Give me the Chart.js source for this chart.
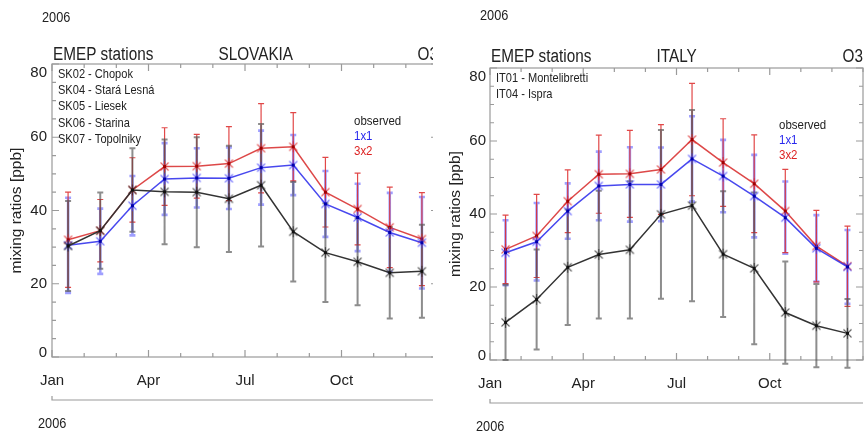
<!DOCTYPE html>
<html lang="en">
<head>
<meta charset="UTF-8">
<title>EMEP stations O3 2006</title>
<script src="https://cdn.jsdelivr.net/npm/chart.js"></script>
<style>
    body { margin: 0; background: #fff; }
    .wrap { position: absolute; top: 0; height: 439px; overflow: hidden; }
    .wrap canvas { display: block; }
    #leftWrap { left: 0; width: 433px; }
    #rightWrap { left: 433px; width: 433px; }
</style>
</head>
<body>
<div class="wrap" id="leftWrap"><canvas id="skChart" width="440" height="439"></canvas></div>
<div class="wrap" id="rightWrap"><canvas id="itChart" width="433" height="439"></canvas></div>

<script>
const months = ['Jan', 'Feb', 'Mar', 'Apr', 'May', 'Jun', 'Jul', 'Aug', 'Sep', 'Oct', 'Nov', 'Dec'];
const tickMonths = [0, 3, 6, 9];
const tickNames = ['Jan', 'Apr', 'Jul', 'Oct'];
const legendNames = ['observed', '1x1', '3x2'];

// Slovakia
const skStations = ['SK02 - Chopok', 'SK04 - Stará Lesná', 'SK05 - Liesek', 'SK06 - Starina', 'SK07 - Topolniky'];
const skObserved = [30.3, 34.5, 45.6, 45.1, 45.0, 43.2, 46.9, 34.2, 28.5, 26.0, 23.0, 23.4];
const skObservedSd = [12.3, 10.4, 11.4, 14.3, 15.0, 14.5, 16.7, 13.6, 13.5, 11.9, 12.5, 12.7];
const sk1x1 = [30.5, 31.6, 41.3, 48.6, 48.9, 48.8, 51.7, 52.4, 41.8, 38.1, 34.0, 31.2];
const sk1x1Sd = [13.0, 8.9, 8.1, 9.8, 8.1, 8.4, 10.1, 8.2, 9.0, 9.2, 10.8, 12.5];
const sk3x2 = [32.0, 34.5, 45.6, 52.0, 52.1, 52.8, 57.0, 57.4, 45.0, 40.4, 35.4, 32.2];
const sk3x2Sd = [13.0, 8.5, 8.8, 10.6, 8.7, 10.1, 12.2, 9.3, 9.5, 9.8, 11.0, 12.7];

// Italy
const itStations = ['IT01 - Montelibretti', 'IT04 - Ispra'];
const itObserved = [10.3, 16.6, 25.4, 28.9, 30.2, 39.9, 42.3, 29.0, 25.1, 13.0, 9.4, 7.3];
const itObservedSd = [10.3, 13.7, 15.8, 17.5, 18.8, 23.1, 26.2, 17.2, 20.8, 14.0, 11.4, 9.4];
const it1x1 = [29.4, 32.4, 40.8, 47.7, 48.1, 48.1, 55.1, 50.4, 44.9, 39.0, 30.6, 25.5];
const it1x1Sd = [8.9, 10.6, 7.6, 9.4, 10.2, 10.1, 11.7, 9.9, 11.3, 9.9, 9.1, 10.1];
const it3x2 = [30.3, 34.0, 43.5, 50.9, 51.0, 52.2, 60.4, 54.1, 48.3, 40.8, 31.2, 25.7];
const it3x2Sd = [9.4, 11.4, 8.6, 10.7, 11.9, 12.3, 15.4, 12.0, 13.4, 11.4, 9.8, 11.0];

const textColor = '#222';
const seriesColors = ['#333333', 'rgba(40,40,235,0.85)', 'rgba(215,40,40,0.85)'];
const markerColors = [['rgba(40,40,40,0.75)', '#111'], ['rgba(60,60,255,0.7)', '#0000aa'], ['rgba(220,40,40,0.75)', '#a00000']];
const barColors = ['rgba(80,80,80,0.65)', 'rgba(80,80,255,0.55)', 'rgba(220,40,40,0.85)'];
const barWidths = [2, 2.6, 1.2];
const narrowFont = "'Liberation Sans Narrow', 'Liberation Sans', Arial, sans-serif";

function drawText(ctx, str, x, y, size, color, align) {
    ctx.save();
    ctx.font = size + "px 'Liberation Sans', Arial, sans-serif";
    ctx.fillStyle = color;
    ctx.textBaseline = 'middle';
    ctx.textAlign = align || 'left';
    ctx.translate(x, y);
    ctx.scale(0.85, 1); // the original figure is squeezed sideways
    ctx.fillText(str, 0, 0);
    ctx.restore();
}

// IDL-like asterisk: an X plus a vertical stroke, with a dark centre
function asterisk(arm, core) {
    const c = document.createElement('canvas');
    c.width = 13; c.height = 13;
    const g = c.getContext('2d');
    g.strokeStyle = arm;
    g.lineWidth = 1.1;
    g.beginPath();
    g.moveTo(2.5, 2.5); g.lineTo(10.5, 10.5);
    g.moveTo(10.5, 2.5); g.lineTo(2.5, 10.5);
    g.moveTo(6.5, 1); g.lineTo(6.5, 12);
    g.stroke();
    g.fillStyle = core;
    g.fillRect(5, 5, 3, 3);
    return c;
}

function series(i, values, sd) {
    return {
        label: legendNames[i],
        sd: sd,
        barColor: barColors[i],
        barWidth: barWidths[i],
        data: values.map((v, k) => ({ x: k + 0.5, y: v })),
        borderColor: seriesColors[i],
        backgroundColor: seriesColors[i],
        borderWidth: 1.5,
        pointStyle: asterisk(markerColors[i][0], markerColors[i][1]),
        pointRadius: 6,
        tension: 0
    };
}

function decor(p) {
    return {
        id: 'decor',
        beforeDraw(chart) {
            // end labels of the y axis sit a little inside the frame, as in the original
            chart.scales.y.getLabelItems().forEach(it => {
                if (String(it.label) === '80') it.options.translation[1] += 8.5;
                if (String(it.label) === '0') it.options.translation[1] -= 4.5;
            });
        },
        beforeDatasetsDraw(chart) {
            const ctx = chart.ctx;
            const a = chart.chartArea;
            const x = chart.scales.x, y = chart.scales.y;

            // frame with inward ticks on all sides
            ctx.save();
            ctx.strokeStyle = '#9a9a9a';
            ctx.lineWidth = 1.2;
            ctx.strokeRect(a.left, a.top, a.right - a.left, a.bottom - a.top);
            ctx.beginPath();
            x.ticks.forEach(t => {
                const px = x.getPixelForValue(t.value);
                const len = tickMonths.includes(t.value) ? 7 : 4;
                ctx.moveTo(px, a.bottom); ctx.lineTo(px, a.bottom - len);
                ctx.moveTo(px, a.top); ctx.lineTo(px, a.top + len);
            });
            y.ticks.forEach(t => {
                const py = y.getPixelForValue(t.value);
                const len = t.value % 20 === 0 ? 7 : 4;
                ctx.moveTo(a.left, py); ctx.lineTo(a.left + len, py);
                ctx.moveTo(a.right, py); ctx.lineTo(a.right - len, py);
            });
            // year bracket under the month labels
            ctx.moveTo(a.left, a.bottom + 39);
            ctx.lineTo(a.left, a.bottom + 43);
            ctx.lineTo(a.right, a.bottom + 43);
            ctx.stroke();
            ctx.restore();

            // error bars, blue first, black last
            [1, 2, 0].forEach(di => {
                const ds = chart.data.datasets[di];
                ctx.save();
                ctx.strokeStyle = ds.barColor;
                ctx.lineWidth = ds.barWidth;
                ctx.beginPath();
                ds.data.forEach((pt, k) => {
                    const px = x.getPixelForValue(pt.x);
                    const top = y.getPixelForValue(pt.y + ds.sd[k]);
                    const bot = y.getPixelForValue(pt.y - ds.sd[k]);
                    ctx.moveTo(px, top); ctx.lineTo(px, bot);
                    ctx.moveTo(px - 3, top); ctx.lineTo(px + 3, top);
                    ctx.moveTo(px - 3, bot); ctx.lineTo(px + 3, bot);
                });
                ctx.stroke();
                ctx.restore();
            });
        },
        afterDraw(chart) {
            const ctx = chart.ctx;
            const a = chart.chartArea;
            drawText(ctx, '2006', a.left - 10, p.yearY, 15, textColor);
            drawText(ctx, 'EMEP stations', a.left + 1, p.titleY, 18, textColor);
            drawText(ctx, p.country, a.left + 166.5, p.titleY, 18, textColor);
            drawText(ctx, 'O3', a.right, p.titleY, 18, textColor, 'right');
            p.stations.forEach((s, i) => {
                drawText(ctx, s, a.left + 6, a.top + 10.5 + i * 16.2, 13, textColor);
            });
            legendNames.forEach((s, i) => {
                drawText(ctx, s, a.right - 84, a.top + 57 + i * 15, 13.5, ['#222', '#2828ee', '#dd2222'][i]);
            });
            drawText(ctx, '2006', a.left - 14, a.bottom + 67, 15, textColor);
        }
    };
}

function makePanel(canvasId, p) {
    const ctx = document.getElementById(canvasId).getContext('2d');
    new Chart(ctx, {
        type: 'line',
        data: {
            datasets: [
                series(0, p.obs, p.obsSd),
                series(1, p.m1, p.m1Sd),
                series(2, p.m3, p.m3Sd)
            ]
        },
        options: {
            responsive: false,
            animation: false,
            devicePixelRatio: 1,
            layout: { autoPadding: false, padding: { top: p.padTop, right: p.padRight, left: 0, bottom: 0 } },
            plugins: { legend: { display: false }, tooltip: { enabled: false } },
            scales: {
                x: {
                    type: 'linear', min: 0, max: 12,
                    grid: { display: false, drawTicks: false },
                    border: { display: false },
                    ticks: {
                        stepSize: 1, autoSkip: false, maxRotation: 0, padding: 15,
                        color: textColor,
                        font: { size: 15, family: narrowFont },
                        callback: v => {
                            const k = tickMonths.indexOf(v);
                            return k < 0 ? '' : tickNames[k];
                        }
                    },
                    afterFit: s => {
                        s.height = p.xHeight;
                        s.paddingLeft = 0;
                        s.paddingRight = 0;
                    }
                },
                y: {
                    min: 0, max: 80,
                    grid: { display: false, drawTicks: false },
                    border: { display: false },
                    ticks: {
                        stepSize: 5, autoSkip: false, padding: p.yPad,
                        color: textColor,
                        font: { size: 15, family: narrowFont },
                        callback: v => (v % 20 === 0 ? String(v) : '')
                    },
                    title: {
                        display: true,
                        text: 'mixing ratios [ppb]',
                        color: textColor,
                        font: { size: 15.5, family: "'Liberation Sans', Arial, sans-serif" },
                        padding: { top: p.titlePad, bottom: 0 }
                    },
                    afterFit: s => {
                        s.width = p.yWidth;
                        s.paddingTop = 0;
                        s.paddingBottom = 0;
                    }
                }
            }
        },
        plugins: [decor(p)]
    });
}

makePanel('skChart', {
    country: 'SLOVAKIA', stations: skStations,
    obs: skObserved, obsSd: skObservedSd, m1: sk1x1, m1Sd: sk1x1Sd, m3: sk3x2, m3Sd: sk3x2Sd,
    padTop: 64, padRight: 2, xHeight: 82, yWidth: 52, yPad: 5, titlePad: 7,
    yearY: 17.5, titleY: 55.5
});

makePanel('itChart', {
    country: 'ITALY', stations: itStations,
    obs: itObserved, obsSd: itObservedSd, m1: it1x1, m1Sd: it1x1Sd, m3: it3x2, m3Sd: it3x2Sd,
    padTop: 68, padRight: 3, xHeight: 79, yWidth: 57, yPad: 4, titlePad: 13,
    yearY: 16, titleY: 57
});
</script>
</body>
</html>
